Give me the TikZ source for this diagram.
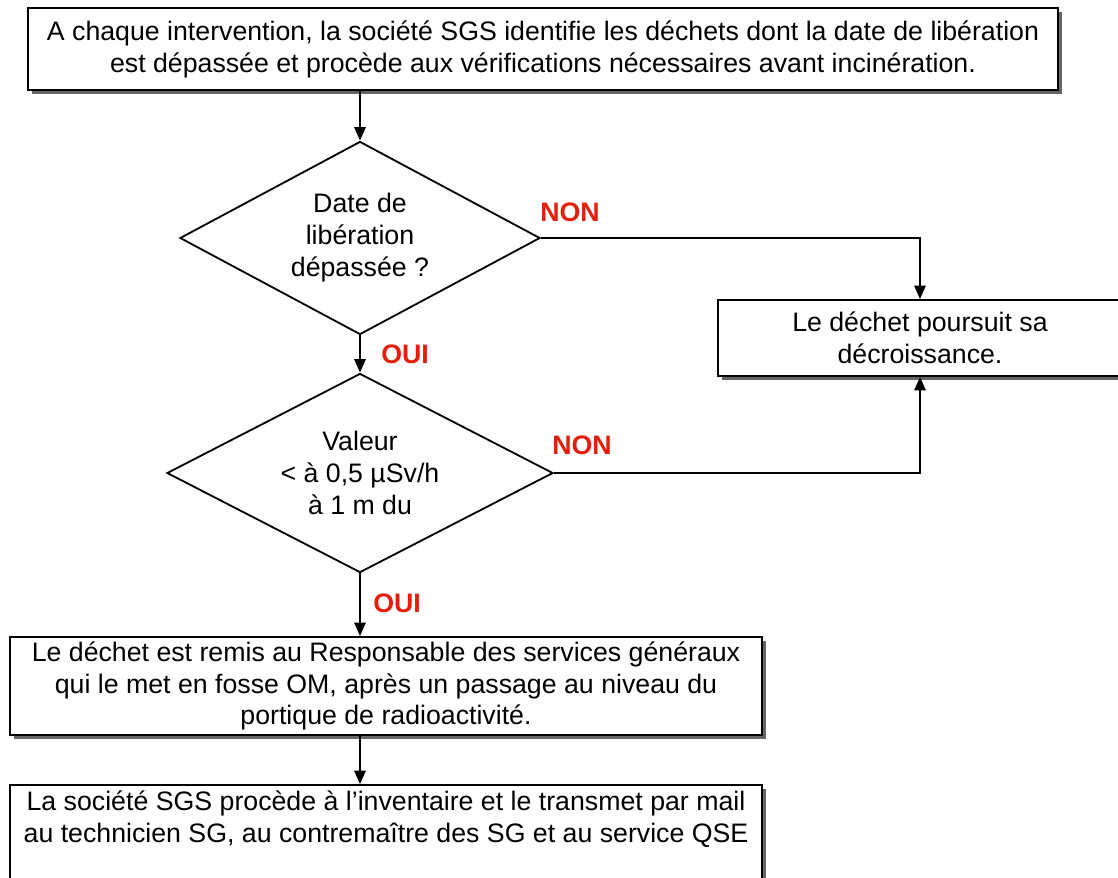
\documentclass[tikz,border=0pt]{standalone}
\usepackage{fontspec}
\setmainfont{Liberation Sans}
\usetikzlibrary{arrows.meta}
\usetikzlibrary{shapes.geometric,shadows}
\definecolor{ouinon}{RGB}{228,30,10}
\tikzset{
    boite/.style={
        draw,
        rectangle,
        fill=white,
        line width=1.3pt,
        align=center,
        inner sep=0pt,
        drop shadow={shadow xshift=2.8pt, shadow yshift=-2.8pt, fill=black!60, opacity=1}
    },
    choix/.style={
        draw,
        diamond,
        line width=1.3pt,
        align=center,
        inner sep=0pt,
        aspect=1.9
    },
    fleche/.style={
        line width=1.3pt,
        -{Triangle[length=9.5pt, width=8pt]}
    },
    reponse/.style={text=ouinon, font=\fontsize{19}{22.7}\selectfont\bfseries}
}

\begin{document}
\begin{tikzpicture}[x=0.025cm, y=-0.025cm, font=\fontsize{19}{22.7}\selectfont]
    \useasboundingbox (0,0) rectangle (1118,877);
    \clip (0,0) rectangle (1118,877);

    % Boites
    \node[boite, minimum width=25.75cm, minimum height=2.05cm] (debut) at (543,49)
        {A chaque intervention, la société SGS identifie les déchets dont la date de libération\\
         est dépassée et procède aux vérifications nécessaires avant incinération.};
    \node[boite, minimum width=10.1cm, minimum height=1.9cm] (suite) at (920,338)
        {Le déchet poursuit sa\\décroissance.};
    \node[boite, minimum width=18.8cm, minimum height=2.45cm] (remise) at (386,686)
        {Le déchet est remis au Responsable des services généraux\\
         qui le met en fosse OM, après un passage au niveau du\\
         portique de radioactivité.};
    \node[boite, minimum width=18.8cm, minimum height=2.375cm] (inventaire) at (386,832.5)
        {La société SGS procède à l’inventaire et le transmet par mail\\
         au technicien SG, au contremaître des SG et au service QSE\\ ~};

    % Tests
    \node[choix, minimum width=9cm, minimum height=4.825cm] (choix1) at (360,238)
        {Date de\\libération\\dépassée ?};
    \node[choix, minimum width=9.65cm, minimum height=4.975cm] (choix2) at (360,473)
        {Valeur\\< à 0,5 µSv/h\\à 1 m du};

    % Fleches
    \draw[fleche] (choix1.north |- debut.south) -- (choix1.north);
    \draw[fleche] (choix1.south) -- (choix2.north);
    \draw[fleche] (choix1.east) -| (suite.north);
    \draw[fleche] (choix2.east) -| (suite.south);
    \draw[fleche] (choix2.south) -- (choix2.south |- remise.north);
    \draw[fleche] (choix2.south |- remise.south) -- (choix2.south |- inventaire.north);

    % Reponses
    \node[reponse] (non1) at (570,212) {NON};
    \node[reponse] (oui1) at (405,354) {OUI};
    \node[reponse] (non2) at (582,445) {NON};
    \node[reponse] (oui2) at (397,603) {OUI};
\end{tikzpicture}
\end{document}
